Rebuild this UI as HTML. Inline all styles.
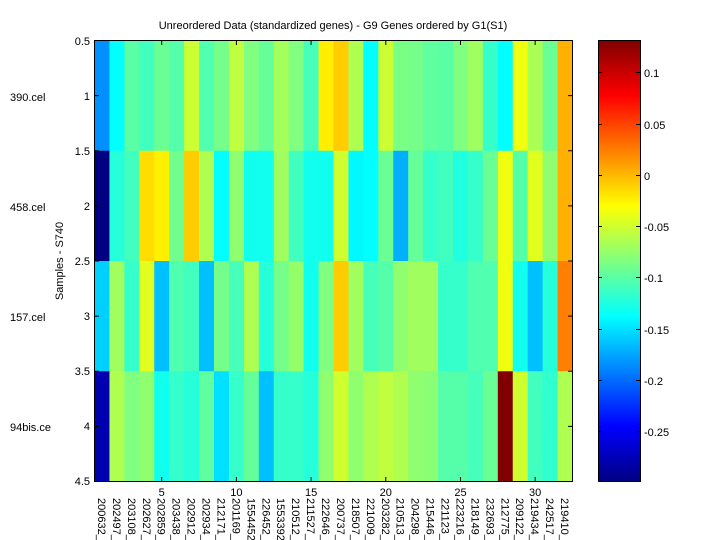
<!DOCTYPE html>
<html><head><style>body{margin:0;background:#fff}svg{display:block}text{font-family:"Liberation Sans",sans-serif;font-size:11px;fill:#000}</style></head><body>
<svg width="720" height="540" xmlns="http://www.w3.org/2000/svg">
<defs><linearGradient id="jet" x1="0" y1="1" x2="0" y2="0">
<stop offset="0" stop-color="#000080"/><stop offset="0.125" stop-color="#0000ff"/><stop offset="0.375" stop-color="#00ffff"/><stop offset="0.625" stop-color="#ffff00"/><stop offset="0.875" stop-color="#ff0000"/><stop offset="1" stop-color="#800000"/></linearGradient></defs>
<text x="333" y="29" text-anchor="middle">Unreordered Data (standardized genes) - G9 Genes ordered by G1(S1)</text>
<g id="cells"></g>
<rect x="94.5" y="40.5" width="478" height="441" fill="none" stroke="#000"/>
<g stroke="#000" id="ticks"></g>
<g text-anchor="end">
<text x="90" y="45">0.5</text><text x="90" y="100">1</text><text x="90" y="155">1.5</text><text x="90" y="210">2</text><text x="90" y="265">2.5</text><text x="90" y="320">3</text><text x="90" y="375">3.5</text><text x="90" y="430">4</text><text x="90" y="485">4.5</text></g>
<text x="10" y="101">390.cel</text><text x="10" y="211">458.cel</text><text x="10" y="321">157.cel</text><text x="10" y="431">94bis.ce</text>
<text transform="translate(63,261) rotate(-90)" text-anchor="middle">Samples - S740</text>
<g id="xl"></g>
<rect x="598.5" y="40.5" width="42" height="441" fill="url(#jet)" stroke="#000"/>
<g stroke="#000"><line x1="598" y1="72.5" x2="602" y2="72.5"/><line x1="636" y1="72.5" x2="641" y2="72.5"/><line x1="598" y1="124.5" x2="602" y2="124.5"/><line x1="636" y1="124.5" x2="641" y2="124.5"/><line x1="598" y1="175.5" x2="602" y2="175.5"/><line x1="636" y1="175.5" x2="641" y2="175.5"/><line x1="598" y1="226.5" x2="602" y2="226.5"/><line x1="636" y1="226.5" x2="641" y2="226.5"/><line x1="598" y1="277.5" x2="602" y2="277.5"/><line x1="636" y1="277.5" x2="641" y2="277.5"/><line x1="598" y1="329.5" x2="602" y2="329.5"/><line x1="636" y1="329.5" x2="641" y2="329.5"/><line x1="598" y1="380.5" x2="602" y2="380.5"/><line x1="636" y1="380.5" x2="641" y2="380.5"/><line x1="598" y1="431.5" x2="602" y2="431.5"/><line x1="636" y1="431.5" x2="641" y2="431.5"/></g>
<text x="644" y="77">0.1</text><text x="644" y="129">0.05</text><text x="644" y="180">0</text><text x="644" y="231">-0.05</text><text x="644" y="282">-0.1</text><text x="644" y="334">-0.15</text><text x="644" y="385">-0.2</text><text x="644" y="436">-0.25</text>
</svg>
<script>
var R=[
"0090ff 00ffff 5affa5 40ffbf 6aff95 55ffaa ccff33 50ffaf 75ff8a bfff40 80ff80 65ff9a a5ff5a 80ff80 45ffba ffee00 ffcc00 afff50 00ffff ccff33 7aff85 75ff8a 60ff9f 5affa5 80ff80 a0ff60 35ffca 00ffff f0ff10 aaff55 6aff95 ffb000",
"000080 25ffda 40ffbf ffdd00 fff000 70ff8f ffcc00 afff50 00ffff 8fff70 10ffef 10ffef a0ff5f 40ffbf 10ffef 10ffef d0ff2f 00f8ff 00ffff 6aff95 00b0ff 65ff9a 35ffca 40ffbf 20ffdf 35ffca 6aff95 f0ff10 55ffaa e0ff1f 90ff6f ffb000",
"00d0ff a0ff5f 35ffca e0ff1f 00c0ff 50ffaf 40ffbf 00c0ff 75ff8a 45ffba afff50 25ffda 75ff8a 95ff6a 10ffef 80ff80 ffcc00 a0ff5f 45ffba 55ffaa 90ff6f a0ff5f a0ff5f 35ffca 35ffca 50ffaf 50ffaf f0ff10 10ffef 00c0ff 25ffda ff8000",
"0000b0 afff50 80ff80 90ff6f 10ffef 35ffca 25ffda 60ff9f 00e0ff 35ffca 65ff9a 00c0ff 35ffca 35ffca 25ffda 90ff6f d0ff2f 90ff6f afff50 c0ff3f b0ff4f 90ff6f 8aff75 55ffaa 55ffaa 45ffba 6aff95 800000 d0ff2f 40ffbf 30ffcf afff50"];
var G="200632_ 202497_ 203108_ 202627_ 202859_ 203438_ 202912_ 202934_ 212171_ 201169_ 1554452 226452_ 1553392 210512_ 211527_ 222646_ 200737_ 218507_ 221009_ 203282_ 210513_ 204298_ 215446_ 221123_ 223216_ 218149_ 232693_ 212775_ 209122_ 219434_ 242517_ 219410_".split(" ");
var ns="http://www.w3.org/2000/svg",x0=94.5,w=478/32,s="",t="",l="";
R.forEach(function(r,i){r.split(" ").forEach(function(c,j){s+='<rect x="'+(x0+j*w)+'" y="'+(40.5+i*110.25)+'" width="'+(w+0.5)+'" height="110.75" fill="#'+c+'"/>';});});
for(var k=5;k<=30;k+=5){var x=x0+(k-0.5)*w;t+='<line x1="'+x+'" y1="40" x2="'+x+'" y2="45"/><line x1="'+x+'" y1="477" x2="'+x+'" y2="481"/>';l+='<text x="'+x+'" y="496" text-anchor="middle">'+k+'</text>';}
for(var k=0;k<9;k++){var y=40.5+k*55.125;t+='<line x1="94" y1="'+y+'" x2="99" y2="'+y+'"/><line x1="568" y1="'+y+'" x2="572" y2="'+y+'"/>';}
G.forEach(function(g,j){var x=x0+(j+0.5)*w-4;l+='<text transform="translate('+x+',498) rotate(90)">'+g+'</text>';});
document.getElementById("cells").innerHTML=s;document.getElementById("ticks").innerHTML=t;document.getElementById("xl").innerHTML=l;
</script>
</body></html>
